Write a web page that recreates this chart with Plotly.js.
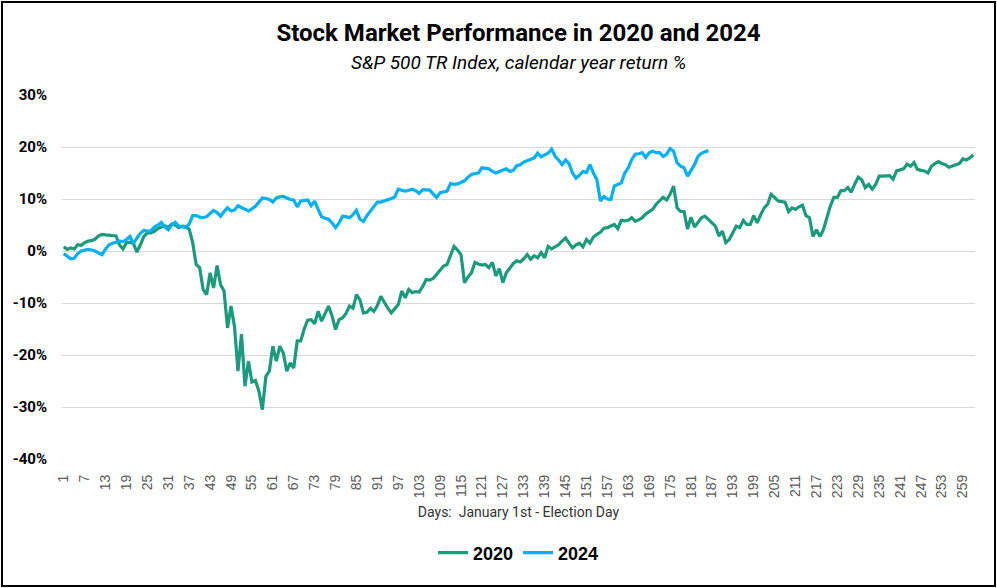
<!DOCTYPE html>
<html>
<head>
<meta charset="utf-8">
<script src="https://cdn.plot.ly/plotly-3.0.1.min.js"></script>
<style>
html,body{margin:0;padding:0;background:#fff;}
#wrap{position:relative;width:997px;height:588px;}
#chart{width:997px;height:588px;}
#frame{position:absolute;left:1px;top:1px;width:991px;height:582px;border:2px solid #000;pointer-events:none;}
</style>
</head>
<body>
<div id="wrap"><div id="chart"></div><div id="frame"></div></div>
<script>
// Calendar-year return (%) of the S&P 500 TR Index, by trading day
const series2020 = [
0.8,0.3,0.6,0.4,1.2,1.1,1.6,1.9,2.0,2.3,
2.9,3.2,3.1,3.0,3.0,2.9,1.2,0.4,1.6,1.7,
1.4,-0.2,1.2,2.8,3.5,3.5,3.8,4.3,4.6,4.8,
4.6,5.2,5.0,4.5,4.8,4.7,4.2,1.6,-2.6,-3.2,
-7.4,-8.4,-4.2,-7.1,-2.8,-6.5,-7.7,-14.8,-10.6,-14.5,
-23.1,-16.0,-26.0,-21.2,-25.2,-24.9,-26.9,-30.5,-24.1,-23.1,
-18.3,-21.2,-18.3,-19.6,-23.1,-21.5,-22.5,-17.3,-17.3,-15.0,
-13.3,-13.2,-14.0,-11.6,-13.5,-12.0,-10.6,-12.5,-15.1,-13.2,
-12.9,-12.0,-10.6,-11.0,-8.4,-9.4,-11.9,-11.8,-11.0,-11.6,
-10.5,-8.7,-10.0,-11.0,-11.9,-11.0,-10.3,-7.7,-9.0,-7.4,
-8.0,-7.8,-7.9,-6.8,-5.5,-5.6,-5.3,-4.5,-3.8,-2.9,
-2.6,-0.7,0.9,0.2,-0.7,-6.1,-5.0,-4.2,-2.2,-2.5,
-2.7,-2.6,-3.2,-2.2,-4.8,-3.4,-6.1,-4.2,-3.2,-2.4,
-1.9,-2.1,-1.5,-0.7,-1.6,-0.9,-1.3,-0.3,-1.3,0.9,
0.4,0.8,1.2,1.9,2.5,1.5,0.6,1.2,1.5,0.8,
2.2,1.5,2.7,3.2,3.6,4.4,4.5,4.8,5.1,4.3,
5.9,5.8,5.9,6.4,5.7,6.0,6.4,7.1,7.5,8.0,
9.0,9.6,10.3,9.8,10.9,12.5,8.3,7.6,7.6,4.2,
6.5,4.6,5.4,6.4,6.7,6.1,5.5,4.8,2.9,3.8,
1.6,2.2,3.5,4.8,4.5,5.9,5.1,5.1,6.8,5.4,
7.0,8.3,9.0,10.9,10.3,9.6,9.5,9.4,7.6,8.3,
8.0,8.5,8.8,6.8,6.4,2.8,4.1,2.8,4.1,6.4,
8.7,10.3,10.3,11.6,11.6,12.2,11.3,12.9,14.2,13.7,
12.2,12.8,11.9,12.8,14.4,14.4,14.4,14.5,13.8,15.4,
15.6,15.8,16.7,16.3,17.0,15.7,15.5,15.4,15.0,16.3,
16.8,17.2,16.8,16.6,16.1,16.4,16.6,16.8,17.7,17.5,
17.9,18.5
];
const series2024 = [
-0.5,-1.0,-1.5,-1.4,-0.5,0.0,0.2,0.3,0.2,0.0,
-0.4,-0.7,0.4,1.2,1.5,1.7,1.9,1.8,2.2,2.8,
1.4,2.5,3.4,4.0,3.8,3.9,4.6,5.0,5.5,4.6,
4.1,5.0,5.5,4.8,4.7,4.5,5.2,6.8,6.8,6.5,
6.4,6.6,7.2,7.8,7.4,6.7,7.6,8.3,7.7,7.9,
8.7,8.4,8.1,7.7,8.1,8.6,9.4,10.2,10.1,9.9,
9.4,10.2,10.4,10.5,10.2,9.9,9.8,8.5,9.6,9.7,
9.8,8.7,9.6,8.0,6.6,6.3,6.1,5.4,4.5,5.4,
6.7,6.6,6.4,7.0,7.8,6.1,5.7,6.8,7.6,8.6,
9.4,9.4,9.6,9.9,10.1,10.4,11.9,11.7,11.5,11.7,
11.9,11.6,11.1,11.8,11.7,11.7,11.0,10.3,11.2,11.4,
11.5,13.0,12.8,12.9,13.2,13.5,14.2,14.7,14.9,15.0,
16.0,15.9,15.8,15.3,15.0,15.3,15.6,15.8,15.3,15.5,
16.4,16.6,17.1,17.4,17.7,17.9,18.8,18.1,18.5,18.8,
19.6,18.2,17.5,16.6,17.5,16.8,15.0,14.0,14.6,15.3,
15.1,16.6,15.0,13.7,9.6,10.5,10.0,9.9,12.5,12.8,
13.1,15.0,16.0,17.6,18.6,18.7,18.9,18.0,18.9,19.2,
18.9,18.9,18.2,18.6,19.7,19.2,17.0,16.3,16.0,14.4,
15.6,16.6,18.2,18.8,19.1,19.3
];
const days2020 = series2020.map((_, i) => i + 1);
const days2024 = series2024.map((_, i) => i + 1);
const yTickVals = [-40, -30, -20, -10, 0, 10, 20, 30];
const yTickText = ["-40%", "-30%", "-20%", "-10%", "0%", "10%", "20%", "30%"];
const titleText = "Stock Market Performance in 2020 and 2024";
const subtitleText = "S&P 500 TR Index, calendar year return %";
const xTitleText = "Days:  January 1st - Election Day";

const narrow = "Liberation Sans Narrow, Arial Narrow, Roboto, sans-serif";

const traces = [
  {x: days2020, y: series2020, name: "2020", type: "scatter", mode: "lines",
   line: {color: "#1b9a7c", width: 3.2}},
  {x: days2024, y: series2024, name: "2024", type: "scatter", mode: "lines",
   line: {color: "#00b0f0", width: 3.2}}
];

const layout = {
  width: 997, height: 588,
  margin: {l: 62, r: 22, t: 95, b: 129},
  paper_bgcolor: "#fff", plot_bgcolor: "#fff",
  showlegend: true,
  title: {text: "<b>" + titleText + "</b>", x: 0.5, xanchor: "center",
          xref: "paper", yref: "container", y: 1 - 33/588, yanchor: "middle",
          font: {family: narrow, size: 24, color: "#000"}},
  annotations: [
    {text: "<i>" + subtitleText + "</i>", xref: "paper", yref: "paper",
     x: 0.5, y: (459 - 62) / 364, xanchor: "center", yanchor: "middle",
     showarrow: false, font: {family: narrow, size: 19, color: "#000"}},
  ],
  xaxis: {
    range: [0.5, 262.5], tickmode: "linear", tick0: 1, dtick: 6,
    tickangle: -90, showgrid: false, zeroline: false, showline: false,
    ticks: "", ticklabelstandoff: 12,
    tickfont: {family: "Liberation Sans, Arial, sans-serif", size: 14, color: "#595959"},
    title: {text: xTitleText, standoff: 10, font: {family: narrow, size: 14, color: "#333"}},
    automargin: false
  },
  yaxis: {
    range: [-40, 30], tickmode: "array", tickvals: yTickVals, ticktext: yTickText,
    showgrid: true, gridcolor: "#d9d9d9", gridwidth: 1, zeroline: false, showline: false,
    ticks: "", ticklabelstandoff: 14,
    tickfont: {family: narrow, size: 15, color: "#000", weight: "bold"},
    automargin: false
  },
  legend: {orientation: "h", x: 0.5, xanchor: "center", y: (459 - 553) / 364, yanchor: "middle",
           font: {family: "Liberation Sans, Arial, sans-serif", size: 18, color: "#000", weight: "bold"},
           itemwidth: 30}
};

Plotly.newPlot("chart", traces, layout, {displayModeBar: false, staticPlot: true});
</script>
</body>
</html>
